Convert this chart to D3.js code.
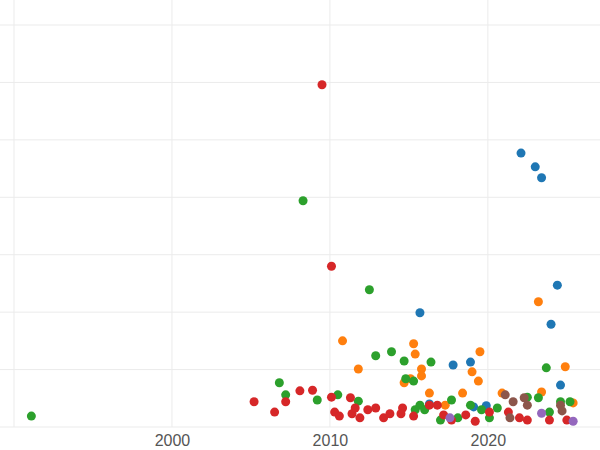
<!DOCTYPE html>
<html>
<head>
<meta charset="utf-8">
<script src="https://cdn.jsdelivr.net/npm/d3@7"></script>
<style>
  body { margin: 0; background: #fff; }
  svg { font-family: "Open Sans", sans-serif; }
</style>
</head>
<body>
<div id="chart"></div>
<script>
// data: [year, value] per series
var blueSeries = [[2022.1,4.77],[2023.0,4.53],[2023.4,4.34],[2024.4,2.47],[2024.0,1.79],[2015.7,1.99],[2018.9,1.13],[2017.8,1.08],[2024.6,0.73],[2019.9,0.37],[2019.1,0.35],[2016.3,0.40]];
var orangeSeries = [[2010.8,1.50],[2011.8,1.01],[2015.3,1.45],[2015.4,1.27],[2015.8,1.01],[2015.8,0.89],[2014.7,0.77],[2015.1,0.84],[2019.5,1.31],[2019.0,0.96],[2019.4,0.80],[2018.4,0.59],[2016.3,0.59],[2023.2,2.18],[2024.9,1.05],[2023.4,0.61],[2025.4,0.42],[2020.9,0.59],[2017.3,0.38]];
var greenSeries = [[1991.1,0.19],[2008.3,3.94],[2012.5,2.39],[2006.8,0.77],[2007.2,0.56],[2009.2,0.47],[2010.5,0.56],[2011.8,0.45],[2012.9,1.24],[2013.9,1.31],[2014.7,1.15],[2014.8,0.84],[2015.3,0.80],[2016.4,1.13],[2023.7,1.03],[2023.2,0.51],[2025.2,0.44],[2015.7,0.38],[2016.0,0.30],[2017.0,0.12],[2017.7,0.47],[2018.1,0.16],[2018.9,0.38],[2019.6,0.30],[2020.1,0.16],[2020.6,0.33],[2022.5,0.52],[2023.9,0.26],[2024.6,0.44],[2015.4,0.30]];
var redSeries = [[2009.5,5.96],[2010.1,2.80],[2005.2,0.44],[2006.5,0.26],[2007.2,0.44],[2008.1,0.63],[2008.9,0.64],[2010.1,0.52],[2010.3,0.26],[2010.6,0.19],[2011.3,0.51],[2011.4,0.23],[2011.6,0.33],[2011.9,0.16],[2012.4,0.30],[2012.9,0.33],[2013.4,0.16],[2013.8,0.23],[2014.6,0.33],[2014.5,0.23],[2015.3,0.19],[2016.3,0.38],[2016.8,0.38],[2017.2,0.21],[2017.7,0.12],[2018.6,0.21],[2019.2,0.10],[2020.1,0.26],[2021.3,0.26],[2022.0,0.16],[2022.5,0.12],[2023.9,0.12],[2025.0,0.12]];
var purpleSeries = [[2023.4,0.24],[2025.4,0.10],[2017.6,0.16]];
var brownSeries = [[2021.1,0.56],[2021.6,0.44],[2022.3,0.51],[2022.5,0.38],[2024.6,0.38],[2024.7,0.28],[2021.4,0.16]];
var xTicks = [1990, 2000, 2010, 2020];
var xTickLabels = ['', '2000', '2010', '2020'];
var yTicks = [0, 1, 2, 3, 4, 5, 6, 7];

var series = [
  {pts: blueSeries, color: '#1f77b4'},
  {pts: orangeSeries, color: '#ff7f0e'},
  {pts: greenSeries, color: '#2ca02c'},
  {pts: redSeries, color: '#d62728'},
  {pts: purpleSeries, color: '#9467bd'},
  {pts: brownSeries, color: '#8c564b'}
];

var width = 600, height = 450;

var x = d3.scaleLinear().domain([1990, 2027.1]).range([14, 600]);
var y = d3.scaleLinear().domain([0, 7]).range([427, 25]);

var svg = d3.select('#chart').append('svg')
  .attr('width', width).attr('height', height);

// gridlines
svg.append('g').selectAll('line.h')
  .data(yTicks).enter().append('line')
  .attr('x1', 0).attr('x2', width)
  .attr('y1', function(d) { return y(d); }).attr('y2', function(d) { return y(d); })
  .attr('stroke', '#ebebeb').attr('stroke-width', 1);

svg.append('g').selectAll('line.v')
  .data(xTicks).enter().append('line')
  .attr('x1', function(d) { return x(d); }).attr('x2', function(d) { return x(d); })
  .attr('y1', 0).attr('y2', 427)
  .attr('stroke', '#ebebeb').attr('stroke-width', 1);

// x axis labels
var xAxis = d3.axisBottom(x).tickValues(xTicks)
  .tickFormat(function(d, i) { return xTickLabels[i]; })
  .tickSize(0).tickPadding(8);
var gx = svg.append('g').attr('transform', 'translate(0,427)').call(xAxis);
gx.select('.domain').remove();
gx.selectAll('text').attr('font-size', 16).attr('fill', '#555');

// points
series.forEach(function(s) {
  svg.append('g').selectAll('circle')
    .data(s.pts).enter().append('circle')
    .attr('cx', function(d) { return x(d[0]); })
    .attr('cy', function(d) { return y(d[1]); })
    .attr('r', 4.5)
    .attr('fill', s.color);
});
</script>
</body>
</html>
